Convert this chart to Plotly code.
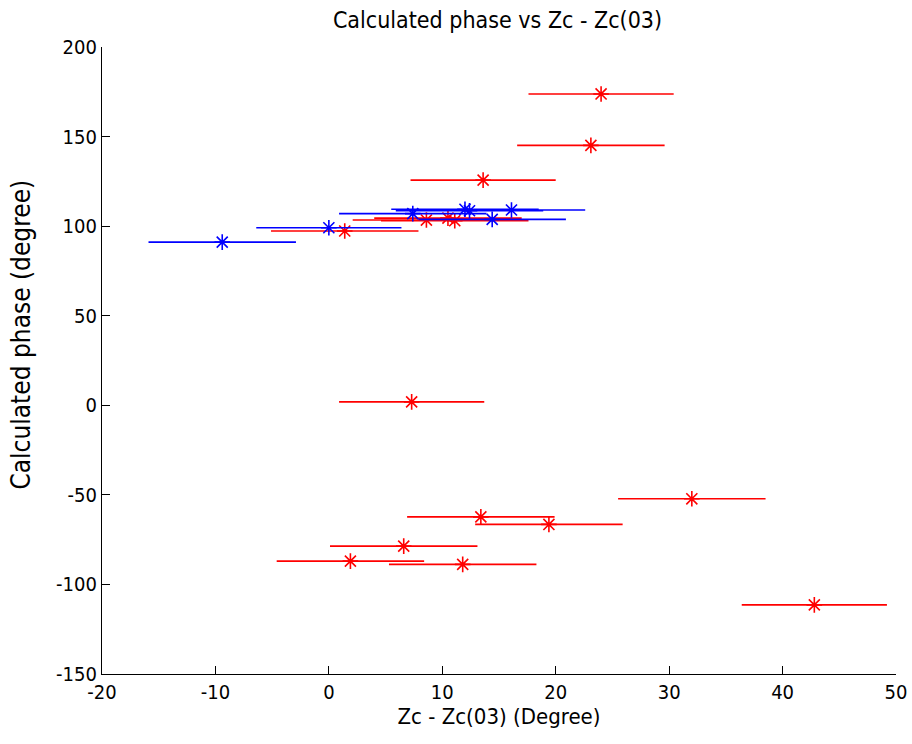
import plotly.graph_objects as go

# Red series
red_x = [24.0, 23.1, 13.6, 1.4, 8.6, 10.5, 11.1, 7.3, 32.0, 13.4, 19.4, 6.6, 1.9, 11.8, 42.8]
red_y = [173.8, 145.1, 125.7, 97.3, 103.4, 104.5, 103.0, 1.9, -52.2, -62.3, -66.5, -78.6, -87.0, -88.8, -111.4]
red_err = [6.4, 6.5, 6.4, 6.5, 6.5, 6.5, 6.5, 6.4, 6.5, 6.5, 6.5, 6.5, 6.5, 6.5, 6.4]

# Blue series
blue_x = [-9.4, 0.0, 7.4, 12.0, 12.4, 14.4, 16.1]
blue_y = [91.1, 99.1, 107.0, 109.4, 108.6, 103.8, 109.0]
blue_err = [6.5, 6.4, 6.5, 6.5, 6.5, 6.5, 6.5]

x_ticks = [-20, -10, 0, 10, 20, 30, 40, 50]
y_ticks = [-150, -100, -50, 0, 50, 100, 150, 200]

FONT = "Liberation Sans Narrow, DejaVu Sans Condensed, Arial Narrow, sans-serif"

fig = go.Figure()


def add_series(xs, ys, errs, color):
    fig.add_trace(go.Scatter(
        x=xs, y=ys, mode="markers",
        marker=dict(symbol="asterisk-open", size=13, color=color,
                    line=dict(color=color, width=1.6)),
        error_x=dict(type="data", array=errs, visible=True, color=color,
                     thickness=1.6, width=0),
        showlegend=False, hoverinfo="x+y",
    ))


add_series(red_x, red_y, red_err, "#ff0000")
add_series(blue_x, blue_y, blue_err, "#0000ff")

fig.update_layout(
    width=912, height=744,
    margin=dict(l=101.5, r=15.5, t=47, b=70, autoexpand=False),
    paper_bgcolor="white", plot_bgcolor="white",
    font=dict(family=FONT, size=20, color="black"),
    title=dict(text="Calculated phase vs Zc - Zc(03)", x=0.5455, xanchor="center",
               y=0.973, yanchor="middle", font=dict(family=FONT, size=23, color="black")),
    xaxis=dict(range=[-20, 50], tickvals=x_ticks, ticktext=[str(v) for v in x_ticks],
               showgrid=False, zeroline=False, showline=True, linecolor="black",
               linewidth=1.3, ticks="inside", ticklen=8, tickcolor="black",
               tickwidth=1.3, mirror=False, ticklabeloverflow="allow", automargin=False,
               title=dict(text="Zc - Zc(03) (Degree)", font=dict(size=22), standoff=4)),
    yaxis=dict(range=[-150, 200], tickvals=y_ticks, ticktext=[str(v) for v in y_ticks],
               showgrid=False, zeroline=False, showline=True, linecolor="black",
               linewidth=1.3, ticks="inside", ticklen=8, tickcolor="black",
               tickwidth=1.3, mirror=False, automargin=False),
    annotations=[dict(text="Calculated phase (degree)", textangle=-90,
                      xref="paper", yref="paper", x=-0.1015, y=0.542,
                      xanchor="center", yanchor="middle", showarrow=False,
                      font=dict(family=FONT, size=26, color="black"))],
)

# Remove the default 8px page margin so the figure fills the window exactly.
fig.write_html("out.html",
               config={"displayModeBar": False},
               post_script="document.body.style.margin='0';document.body.style.overflow='hidden';")
